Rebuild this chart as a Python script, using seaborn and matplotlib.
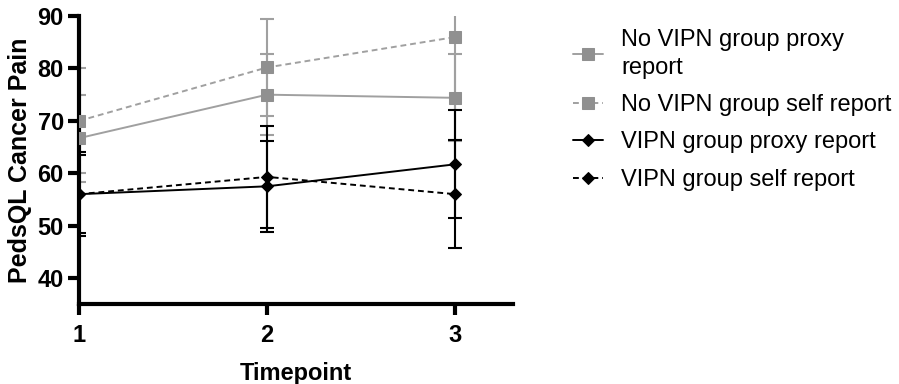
import pandas as pd
import matplotlib.pyplot as plt
import seaborn as sns

timepoints = [1, 2, 3]

series_names = [
    "No VIPN group proxy\nreport",
    "No VIPN group self report",
    "VIPN group proxy report",
    "VIPN group self report",
]

no_vipn_proxy = [66.7, 75.0, 74.4]
no_vipn_proxy_sd = [8.3, 7.7, 8.3]
no_vipn_self = [70.0, 80.2, 86.0]
no_vipn_self_sd = [10.0, 9.3, 19.7]
vipn_proxy = [56.0, 57.5, 61.7]
vipn_proxy_sd = [8.0, 8.7, 10.3]
vipn_self = [56.0, 59.3, 56.0]
vipn_self_sd = [7.5, 9.8, 10.3]

means = [no_vipn_proxy, no_vipn_self, vipn_proxy, vipn_self]
sds = [no_vipn_proxy_sd, no_vipn_self_sd, vipn_proxy_sd, vipn_self_sd]

rows = []
for name, m in zip(series_names, means):
    for t, v in zip(timepoints, m):
        rows.append({"Timepoint": t, "score": v, "group": name})
df = pd.DataFrame(rows)

sns.set_style("ticks")
plt.rcParams["font.family"] = ["Liberation Sans", "DejaVu Sans"]
plt.rcParams["text.color"] = "black"
plt.rcParams["axes.labelcolor"] = "black"
plt.rcParams["xtick.color"] = "black"
plt.rcParams["ytick.color"] = "black"
plt.rcParams["axes.edgecolor"] = "black"

colors = ["#a0a0a0", "#a0a0a0", "black", "black"]
mcolors = ["#909090", "#909090", "black", "black"]
markers = ["s", "s", "D", "D"]
dashes = [(None, None), (3, 2), (None, None), (3, 2)]
msize = [8.5, 8.5, 6.5, 6.5]

fig = plt.figure(figsize=(8.99, 3.84), dpi=100)
ax = fig.add_axes([0.088, 0.208, 0.483, 0.750])

for i, name in enumerate(series_names):
    sub = df[df["group"] == name]
    ax.errorbar(sub["Timepoint"], sub["score"], yerr=sds[i], fmt="none",
                ecolor=colors[i], elinewidth=1.5, capsize=5, capthick=1.5,
                zorder=2)
    sns.lineplot(data=sub, x="Timepoint", y="score", ax=ax, color=colors[i],
                 marker=markers[i], markersize=msize[i],
                 markerfacecolor=mcolors[i], markeredgecolor=mcolors[i],
                 linewidth=1.4, zorder=3, label=name)
    if dashes[i][0] is not None:
        ax.lines[-1].set_dashes(dashes[i])

ax.legend_.remove()
h, l = ax.get_legend_handles_labels()
for hh, dd in zip(h, dashes):
    if dd[0] is not None:
        hh.set_dashes(dd)
leg = fig.legend(h, l, loc="upper left", bbox_to_anchor=(0.637, 0.925),
                 frameon=False, fontsize=17, handlelength=1.3, labelspacing=0.65,
                 handletextpad=0.75, borderpad=0, borderaxespad=0)
for t in leg.get_texts():
    t.set_linespacing(1.35)

ax.set_xlim(1, 3.31)
ax.set_ylim(35, 90)
ax.set_xticks(timepoints)
ax.set_yticks([40, 50, 60, 70, 80, 90])
ax.set_xlabel("Timepoint", fontsize=17, fontweight="bold", labelpad=11)
ax.set_ylabel("PedsQL Cancer Pain", fontsize=18, fontweight="bold", labelpad=4)
for lab in ax.get_xticklabels() + ax.get_yticklabels():
    lab.set_fontweight("bold")
ax.tick_params(axis="both", labelsize=17, width=3, length=8, color="black")
ax.tick_params(axis="x", pad=6)
ax.tick_params(axis="y", pad=3)
for s in ["left", "bottom"]:
    ax.spines[s].set_linewidth(3)
sns.despine(ax=ax)

fig.savefig("out.png", dpi=100)
